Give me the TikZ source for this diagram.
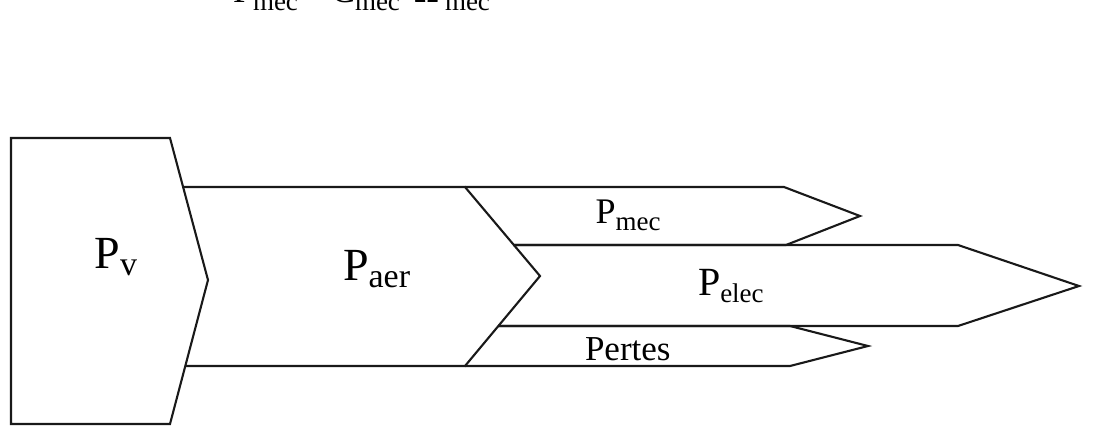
\documentclass[tikz,border=0pt]{standalone}
\usepackage{fontspec}
\setmainfont{Liberation Serif}
\newcommand{\plab}[4]{{\fontsize{#1}{#1}\selectfont P}\raisebox{-#3pt}{\fontsize{#2}{#2}\selectfont #4}}
\newcommand{\fs}[1]{\fontsize{#1}{#1}\selectfont}
\begin{document}
\begin{tikzpicture}[x=1pt,y=-1pt,
  flow/.style={draw=black!90,line width=2.1pt,line join=miter},
  lab/.style={anchor=base west,inner sep=0pt,outer sep=0pt}]
\useasboundingbox (0,0) rectangle (1093,429);
% cropped equation at the top
\begin{scope}
\clip (0,0) rectangle (1093,429);
\node[lab] (eqP) at (233,2.5) {\fs{36}P};
\node[lab] (eqPs) at (253,10.5) {\fs{27}mec};
\node[lab] (eqC) at (331,2.5) {\fs{36}C};
\node[lab] (eqCs) at (355,10.5) {\fs{27}mec};
\node[lab] (eqO) at (413,2.5) {\fs{36}Ω};
\node[lab] (eqOs) at (445,10.5) {\fs{27}mec};
\end{scope}
% Pv block
\draw[flow] (11,138) -- (170,138) -- (208,280) -- (170,424) -- (11,424) -- cycle;
% Paer band
\draw[flow] (183,187) -- (465,187) -- (540,276) -- (465,366) -- (185,366);
% Pmec arrow
\draw[flow] (465,187) -- (784,187) -- (860,216) -- (786,245) -- (513,245);
% Pelec arrow
\draw[flow] (513,245) -- (958,245) -- (1079,286) -- (958,326) -- (498,326);
% Pertes arrow
\draw[flow] (498,326) -- (790,326) -- (868,346) -- (790,366) -- (465,366);
% labels
\node[lab] (pv) at (94.6,268) {\plab{46}{34}{7}{v}};
\node[lab] (paer) at (343,280) {\plab{46}{34}{7}{aer}};
\node[lab] (pmec) at (595.5,223) {\plab{36}{27}{7}{mec}};
\node[lab] (pelec) at (698,295) {\plab{40}{27}{7}{elec}};
\node[lab] (pertes) at (585,360) {\fs{35}Pertes};
\end{tikzpicture}
\end{document}
